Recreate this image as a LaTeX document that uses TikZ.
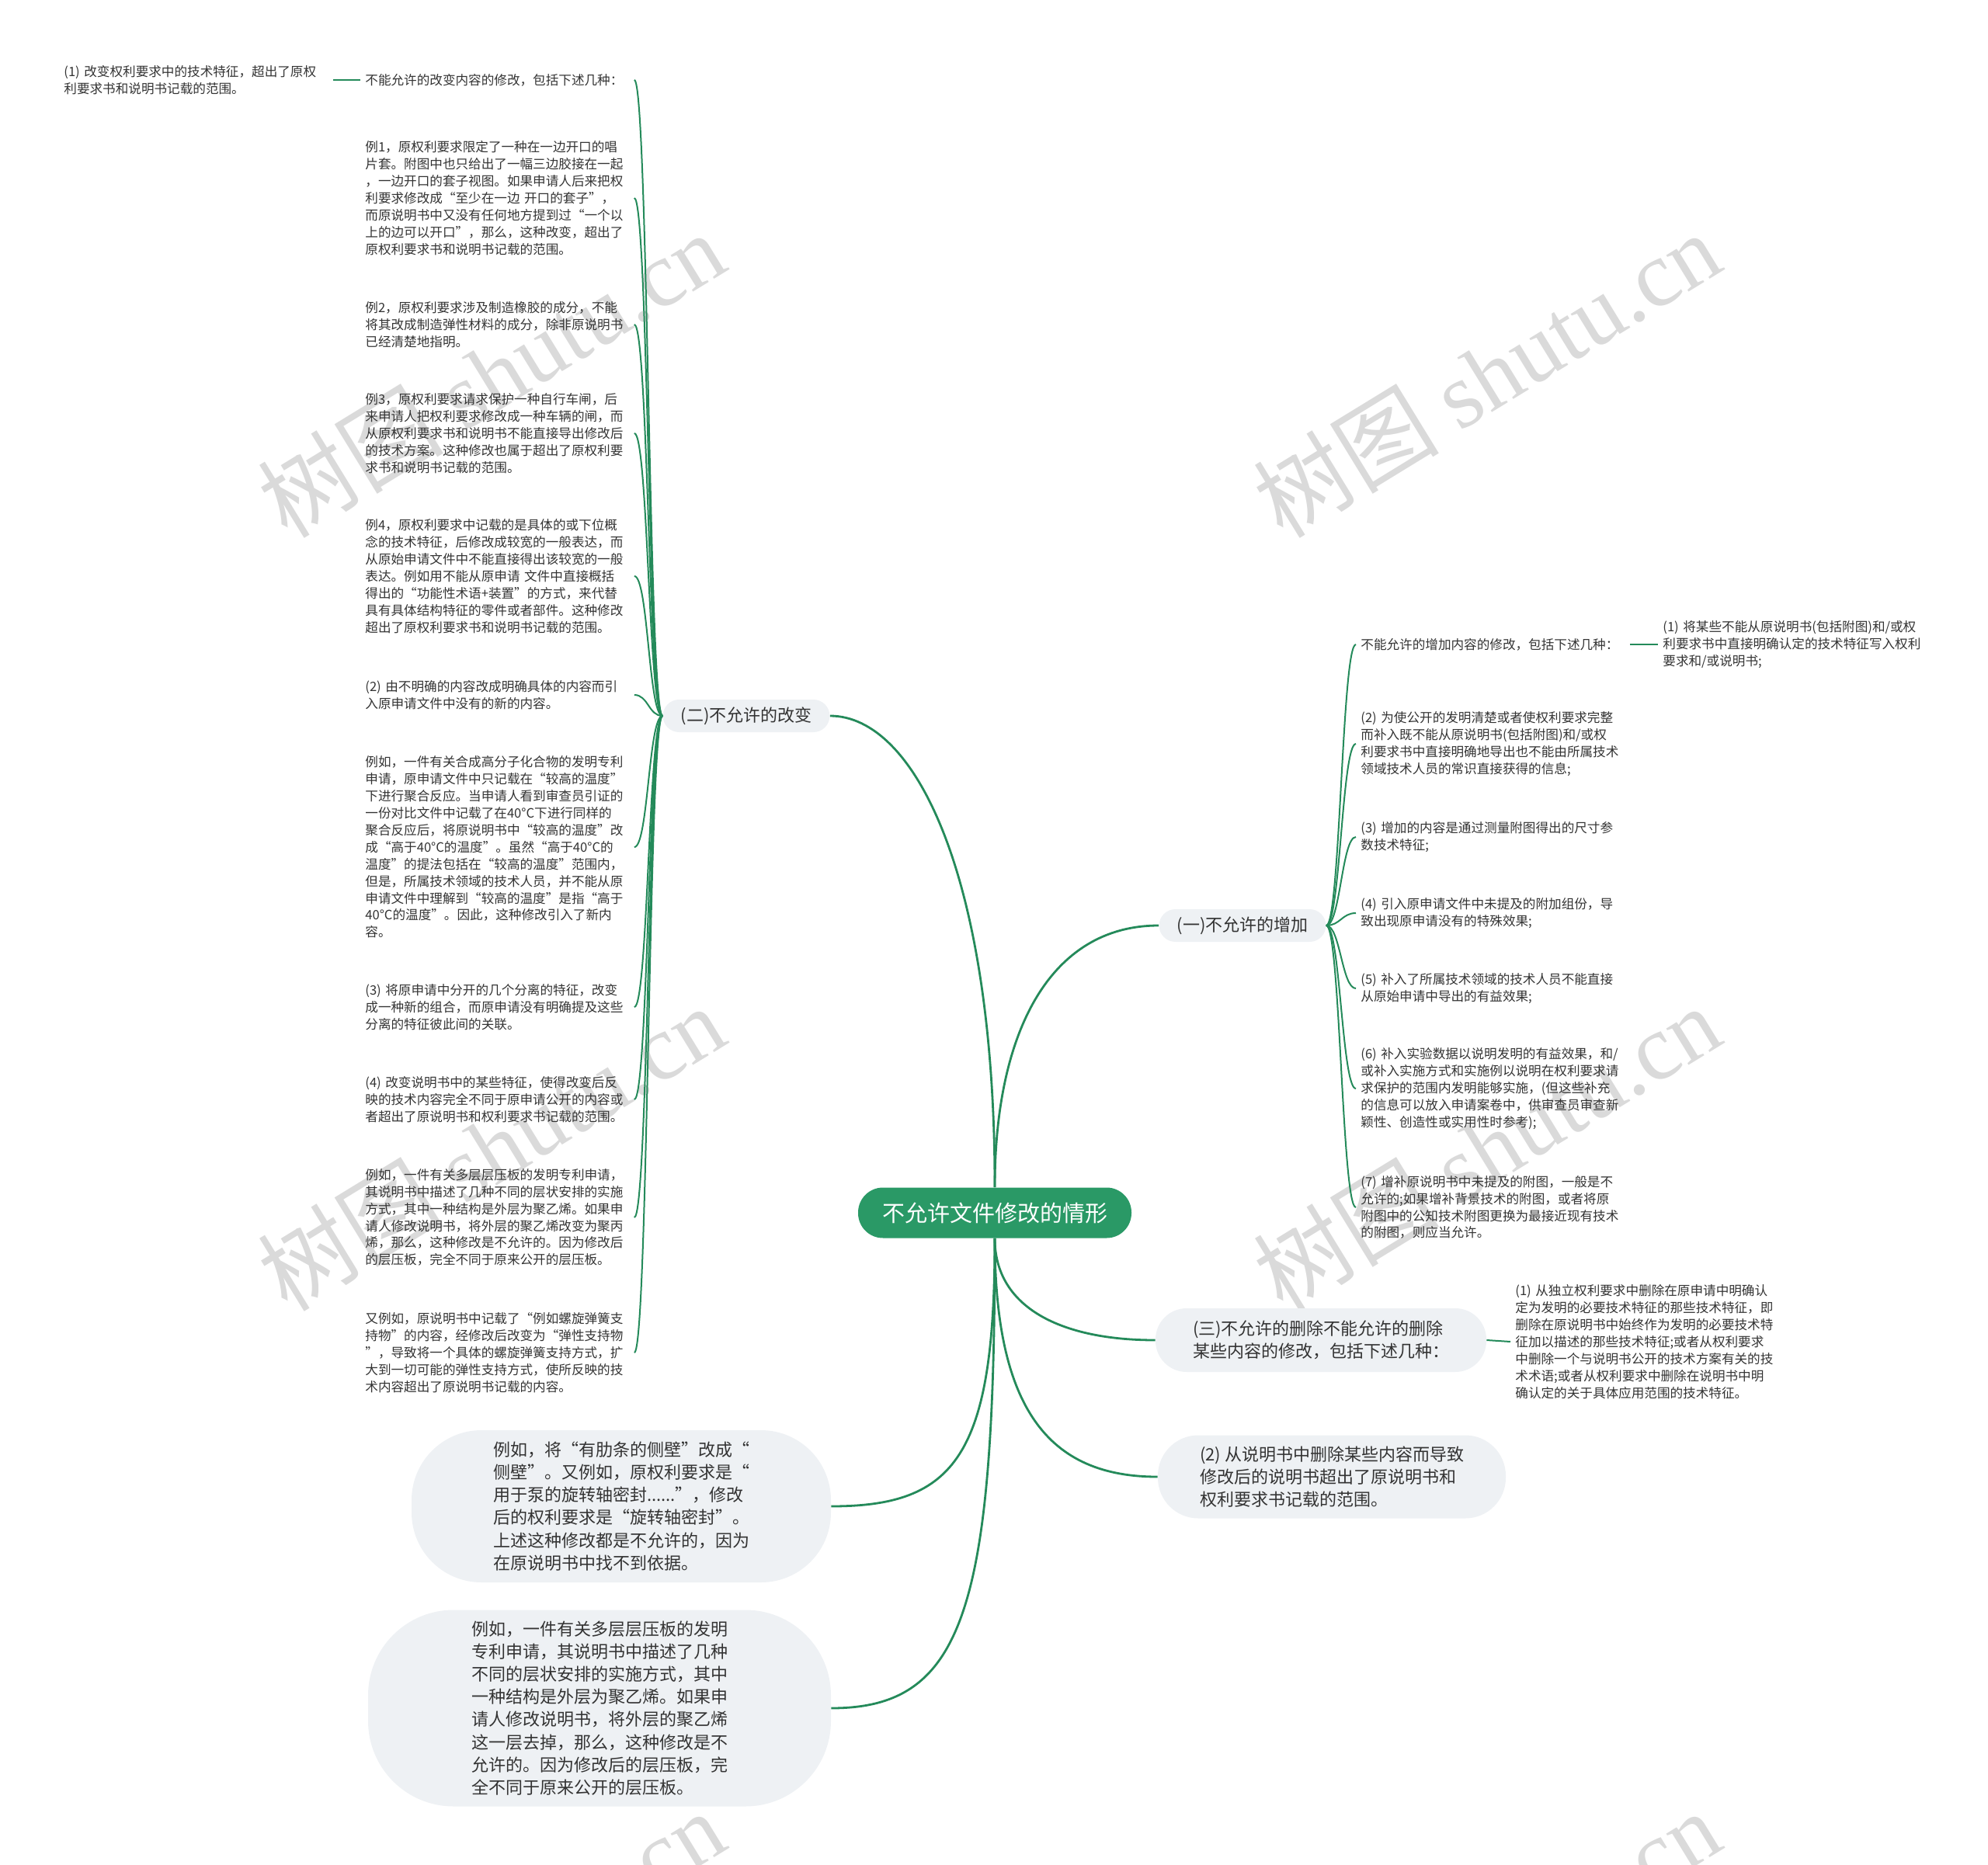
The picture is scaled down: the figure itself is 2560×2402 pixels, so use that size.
\documentclass[tikz,border=0pt]{standalone}
\usepackage{fontspec}
\setmainfont{Noto Sans CJK SC}
\newfontfamily\wmfont{Liberation Serif}
\definecolor{rootgreen}{HTML}{2A9966}
\definecolor{linkgreen}{HTML}{248A5A}
\definecolor{topicgrey}{HTML}{EEF1F4}
\definecolor{inkgrey}{HTML}{333333}
\definecolor{wmgrey}{HTML}{DADADA}

\begin{document}
\begin{tikzpicture}[x=0.5pt, y=-0.5pt,
    leaf/.style={font=\fontsize{8.3}{10.95}\selectfont, text=inkgrey, text width=170pt, align=left, inner sep=3pt, anchor=west},
    topic/.style={font=\fontsize{11}{14.6}\selectfont, text=inkgrey, fill=topicgrey, align=left, inner ysep=0pt},
    link/.style={linkgreen, line width=1pt},
    mainlink/.style={linkgreen, line width=1.4pt},
    wmark/.style={font=\fontsize{60}{60}\selectfont, text=wmgrey, rotate=31.5}]
  \useasboundingbox (0,0) rectangle (2560,2402);
  \clip (0,0) rectangle (2560,2402);
  % watermark
  \foreach \wx/\wy in {632/482, 1914/482, 632/1478, 1914/1478, 632/2515, 1914/2515}{
    \node[wmark] at (\wx,\wy) {树图 {\wmfont shutu.cn}};
  }
  % root and main topics
  \node[fill=rootgreen, text=white, font=\fontsize{14.5}{17}\selectfont, rounded corners=16pt, minimum height=32.5pt, inner xsep=15.5pt] (root) at (1281,1562) {不允许文件修改的情形};
  \node[topic, rounded corners=10.5pt, minimum height=21pt, inner xsep=11.5pt] (addn) at (1600,1192) {(一)不允许的增加};
  \node[topic, rounded corners=10.5pt, minimum height=21pt, inner xsep=11.5pt] (chgn) at (961,922) {(二)不允许的改变};
  \node[topic, rounded corners=20pt, minimum height=41pt, inner xsep=24pt] (deln) at (1701,1726) {(三)不允许的删除不能允许的删除\\某些内容的修改，包括下述几种：};
  \node[topic, rounded corners=26pt, minimum height=53.5pt, inner xsep=27pt] (delb) at (1715,1902) {(2) 从说明书中删除某些内容而导致\\修改后的说明书超出了原说明书和\\权利要求书记载的范围。};
  \node[topic, rounded corners=45pt, minimum height=98pt, inner xsep=52.5pt] (exa) at (800,1940) {例如，将“有肋条的侧壁”改成“\\侧壁”。又例如，原权利要求是“\\用于泵的旋转轴密封......”，修改\\后的权利要求是“旋转轴密封”。\\上述这种修改都是不允许的，因为\\在原说明书中找不到依据。};
  \node[topic, rounded corners=55pt, minimum height=126.5pt, inner xsep=66.5pt] (exb) at (772,2200) {例如，一件有关多层层压板的发明\\专利申请，其说明书中描述了几种\\不同的层状安排的实施方式，其中\\一种结构是外层为聚乙烯。如果申\\请人修改说明书，将外层的聚乙烯\\这一层去掉，那么，这种修改是不\\允许的。因为修改后的层压板，完\\全不同于原来公开的层压板。};
  \draw[mainlink] (root.north) .. controls +(0,-200) and +(-140,0) .. (addn.west);
  \draw[mainlink] (root.north) .. controls +(0,-400) and +(110,0) .. (chgn.east);
  \draw[mainlink] (root.south) .. controls +(0,90) and +(-120,0) .. (deln.west);
  \draw[mainlink] (root.south) .. controls +(0,220) and +(-140,0) .. (delb.west);
  \draw[mainlink] (root.south) .. controls +(0,280) and +(160,0) .. (exa.east);
  \draw[mainlink] (root.south) .. controls +(0,480) and +(170,0) .. (exb.east);
  % (二) branch
  \node[leaf] (chg1) at (464,103) {不能允许的改变内容的修改，包括下述几种：};
  \node[leaf] (chg1a) at (76,103) {(1) 改变权利要求中的技术特征，超出了原权\\利要求书和说明书记载的范围。};
  \node[leaf] (chg2) at (464,255) {例1，原权利要求限定了一种在一边开口的唱\\片套。附图中也只给出了一幅三边胶接在一起\\，一边开口的套子视图。如果申请人后来把权\\利要求修改成“至少在一边 开口的套子”，\\而原说明书中又没有任何地方提到过“一个以\\上的边可以开口”，那么，这种改变，超出了\\原权利要求书和说明书记载的范围。};
  \node[leaf] (chg3) at (464,418) {例2，原权利要求涉及制造橡胶的成分，不能\\将其改成制造弹性材料的成分，除非原说明书\\已经清楚地指明。};
  \node[leaf] (chg4) at (464,558) {例3，原权利要求请求保护一种自行车闸，后\\来申请人把权利要求修改成一种车辆的闸，而\\从原权利要求书和说明书不能直接导出修改后\\的技术方案。这种修改也属于超出了原权利要\\求书和说明书记载的范围。};
  \node[leaf] (chg5) at (464,742) {例4，原权利要求中记载的是具体的或下位概\\念的技术特征，后修改成较宽的一般表达，而\\从原始申请文件中不能直接得出该较宽的一般\\表达。例如用不能从原申请 文件中直接概括\\得出的“功能性术语+装置”的方式，来代替\\具有具体结构特征的零件或者部件。这种修改\\超出了原权利要求书和说明书记载的范围。};
  \node[leaf] (chg6) at (464,895) {(2) 由不明确的内容改成明确具体的内容而引\\入原申请文件中没有的新的内容。};
  \node[leaf] (chg7) at (464,1091) {例如，一件有关合成高分子化合物的发明专利\\申请，原申请文件中只记载在“较高的温度”\\下进行聚合反应。当申请人看到审查员引证的\\一份对比文件中记载了在40°C下进行同样的\\聚合反应后，将原说明书中“较高的温度”改\\成“高于40°C的温度”。虽然“高于40°C的\\温度”的提法包括在“较高的温度”范围内，\\但是，所属技术领域的技术人员，并不能从原\\申请文件中理解到“较高的温度”是指“高于\\40°C的温度”。因此，这种修改引入了新内\\容。};
  \node[leaf] (chg8) at (464,1297) {(3) 将原申请中分开的几个分离的特征，改变\\成一种新的组合，而原申请没有明确提及这些\\分离的特征彼此间的关联。};
  \node[leaf] (chg9) at (464,1416) {(4) 改变说明书中的某些特征，使得改变后反\\映的技术内容完全不同于原申请公开的内容或\\者超出了原说明书和权利要求书记载的范围。};
  \node[leaf] (chg10) at (464,1568) {例如，一件有关多层层压板的发明专利申请，\\其说明书中描述了几种不同的层状安排的实施\\方式，其中一种结构是外层为聚乙烯。如果申\\请人修改说明书，将外层的聚乙烯改变为聚丙\\烯，那么，这种修改是不允许的。因为修改后\\的层压板，完全不同于原来公开的层压板。};
  \node[leaf] (chg11) at (464,1742) {又例如，原说明书中记载了“例如螺旋弹簧支\\持物”的内容，经修改后改变为“弹性支持物\\”，导致将一个具体的螺旋弹簧支持方式，扩\\大到一切可能的弹性支持方式，使所反映的技\\术内容超出了原说明书记载的内容。};
  \foreach \i in {1,...,11}{ \draw[link] (chgn.west) .. controls +(-18,0) and +(18,0) .. (chg\i.east); }
  \draw[link] (chg1.west) -- (chg1a.east);
  % (一) branch
  \node[leaf] (add1) at (1746,830) {不能允许的增加内容的修改，包括下述几种：};
  \node[leaf] (add1a) at (2135,830) {(1) 将某些不能从原说明书(包括附图)和/或权\\利要求书中直接明确认定的技术特征写入权利\\要求和/或说明书;};
  \node[leaf] (add2) at (1746,958) {(2) 为使公开的发明清楚或者使权利要求完整\\而补入既不能从原说明书(包括附图)和/或权\\利要求书中直接明确地导出也不能由所属技术\\领域技术人员的常识直接获得的信息;};
  \node[leaf] (add3) at (1746,1078) {(3) 增加的内容是通过测量附图得出的尺寸参\\数技术特征;};
  \node[leaf] (add4) at (1746,1176) {(4) 引入原申请文件中未提及的附加组份，导\\致出现原申请没有的特殊效果;};
  \node[leaf] (add5) at (1746,1273) {(5) 补入了所属技术领域的技术人员不能直接\\从原始申请中导出的有益效果;};
  \node[leaf] (add6) at (1746,1402) {(6) 补入实验数据以说明发明的有益效果，和/\\或补入实施方式和实施例以说明在权利要求请\\求保护的范围内发明能够实施，(但这些补充\\的信息可以放入申请案卷中，供审查员审查新\\颖性、创造性或实用性时参考);};
  \node[leaf] (add7) at (1746,1555) {(7) 增补原说明书中未提及的附图，一般是不\\允许的;如果增补背景技术的附图，或者将原\\附图中的公知技术附图更换为最接近现有技术\\的附图，则应当允许。};
  \foreach \i in {1,...,7}{ \draw[link] (addn.east) .. controls +(18,0) and +(-18,0) .. (add\i.west); }
  \draw[link] (add1.east) -- (add1a.west);
  % (三) branch
  \node[leaf] (del1a) at (1945,1728) {(1) 从独立权利要求中删除在原申请中明确认\\定为发明的必要技术特征的那些技术特征，即\\删除在原说明书中始终作为发明的必要技术特\\征加以描述的那些技术特征;或者从权利要求\\中删除一个与说明书公开的技术方案有关的技\\术术语;或者从权利要求中删除在说明书中明\\确认定的关于具体应用范围的技术特征。};
  \draw[link] (deln.east) -- (del1a.west);
\end{tikzpicture}
\end{document}
